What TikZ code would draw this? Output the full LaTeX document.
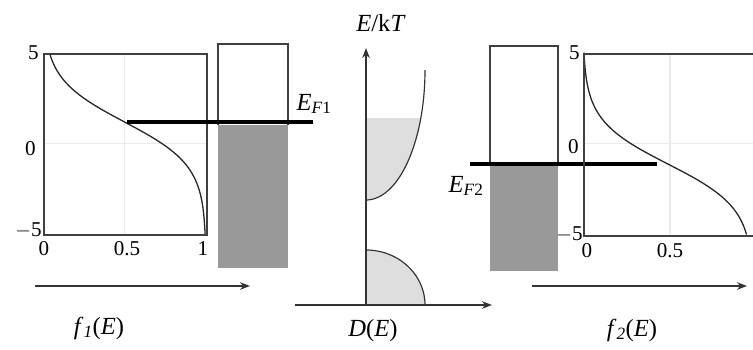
\documentclass[tikz,border=0pt]{standalone}
\usepackage{fontspec}
\setmainfont{Liberation Serif}
\usepackage{tikz}
\usetikzlibrary{arrows.meta, positioning}
\tikzstyle{frame} = [
draw=black!75,
line width=1.5pt
]
\tikzstyle{gridline} = [
draw=black!8,
line width=1pt
]
\tikzstyle{curve} = [
draw=black!85,
line width=1.1pt
]
\tikzstyle{level} = [
draw=black,
line width=3.2pt
]
\tikzstyle{filled} = [
fill=black!40
]
\tikzstyle{dos} = [
draw=black!80,
line width=1pt
]
\tikzstyle{axis} = [
line width=1.5pt,
-{Stealth[length=3mm]},
draw=black!80
]
\tikzstyle{tick} = [
font=\fontsize{18}{20}\selectfont,
inner sep=1pt
]
\tikzstyle{lab} = [
font=\fontsize{21}{24}\selectfont,
inner sep=1pt
]

\begin{document}
\begin{tikzpicture}[x=0.3mm, y=-0.3mm]
			\useasboundingbox (0,0) rectangle (753,349);
			
			% left Fermi function
			\draw [gridline] (124.5,53) -- (124.5,234) (43,143.5) -- (206,143.5);
			\draw [curve] plot[domain=-5:5, samples=80, variable=\e] ({43+163/(1+exp((\e-1.19)/1.2))}, {143.5-18.1*\e});
			\node (box1) [frame, anchor=north west, minimum width=48.9mm, minimum height=54.3mm, inner sep=0pt] at (43,53) {};
			
			\node (t1a) [tick, anchor=east] at (40,53) {5};
			\node (t1b) [tick, anchor=east] at (37,149) {0};
			\node (t1c) [tick, anchor=east] at (43,230) {$-$5};
			\node (t1d) [tick] at (44,249) {0};
			\node (t1e) [tick] at (127,249) {0.5};
			\node (t1f) [tick] at (203,249) {1};
			
			% left band
			\fill [filled] (218,125) rectangle (288,268);
			\draw [frame] (218,125) -- (218,44) -- (288,44) -- (288,125);
			\draw [level] (127,122) -- (313,122);
			\node (ef1) [lab] at (314,104) {\textit{E}\textsubscript{\textit{F}1}};
			
			\coordinate (a1s) at (35,286);
			\coordinate (a1e) at (250,286);
			\draw [axis] (a1s) -- (a1e);
			\node (f1) [lab] at (99,328) {\textit{f}\textsubscript{\textit{1}}(\textit{E})};
			
			% density of states
			\fill [black!13] (366,200) -- plot[domain=0:68.3, samples=40, variable=\t] ({366+59*sin(\t)}, {200-130*(1-cos(\t))}) -- (366,118) -- cycle;
			\draw [dos] plot[domain=0:90, samples=60, variable=\t] ({366+59*sin(\t)}, {200-130*(1-cos(\t))});
			\fill [black!13] (366,250) -- plot[domain=0:90, samples=40, variable=\t] ({366+59*sin(\t)}, {250+55*(1-cos(\t))}) -- (366,305) -- cycle;
			\draw [dos] plot[domain=0:90, samples=60, variable=\t] ({366+59*sin(\t)}, {250+55*(1-cos(\t))});
			
			\coordinate (o) at (366,305);
			\coordinate (ytop) at (366,48);
			\coordinate (xl) at (295,305);
			\coordinate (xr) at (492,305);
			\draw [axis] (o) -- (ytop);
			\draw [axis] (xl) -- (xr);
			\node (ekt) [lab] at (381,23) {\textit{E}/k\textit{T}};
			\node (de) [lab] at (373,331) {\textit{D}(\textit{E})};
			
			% right band
			\fill [filled] (490,166) rectangle (558,271);
			\draw [frame] (490,166) -- (490,46) -- (558,46) -- (558,166);
			\draw [level] (470,164) -- (657,164);
			\node (ef2) [lab] at (466,186) {\textit{E}\textsubscript{\textit{F}2}};
			
			% right Fermi function
			\draw [gridline] (670,53) -- (670,235) (583,143.5) -- (753,143.5);
			\draw [curve] plot[domain=-5:5, samples=80, variable=\e] ({583+170/(1+exp((\e+1.13)/1.2))}, {143.5-18.2*\e});
			\node (box2) [frame, anchor=north west, minimum width=51mm, minimum height=54.6mm, inner sep=0pt] at (583,53) {};
			
			\node (t2a) [tick, anchor=east] at (581,53) {5};
			\node (t2b) [tick, anchor=east] at (580,147) {0};
			\node (t2c) [tick, anchor=east] at (584,234) {$-$5};
			\node (t2d) [tick] at (587,251) {0};
			\node (t2e) [tick] at (670,251) {0.5};
			
			\coordinate (a2s) at (532,286);
			\coordinate (a2e) at (747,286);
			\draw [axis] (a2s) -- (a2e);
			\node (f2) [lab] at (632,330) {\textit{f}\textsubscript{\textit{2}}(\textit{E})};
			
		\end{tikzpicture}
\end{document}
